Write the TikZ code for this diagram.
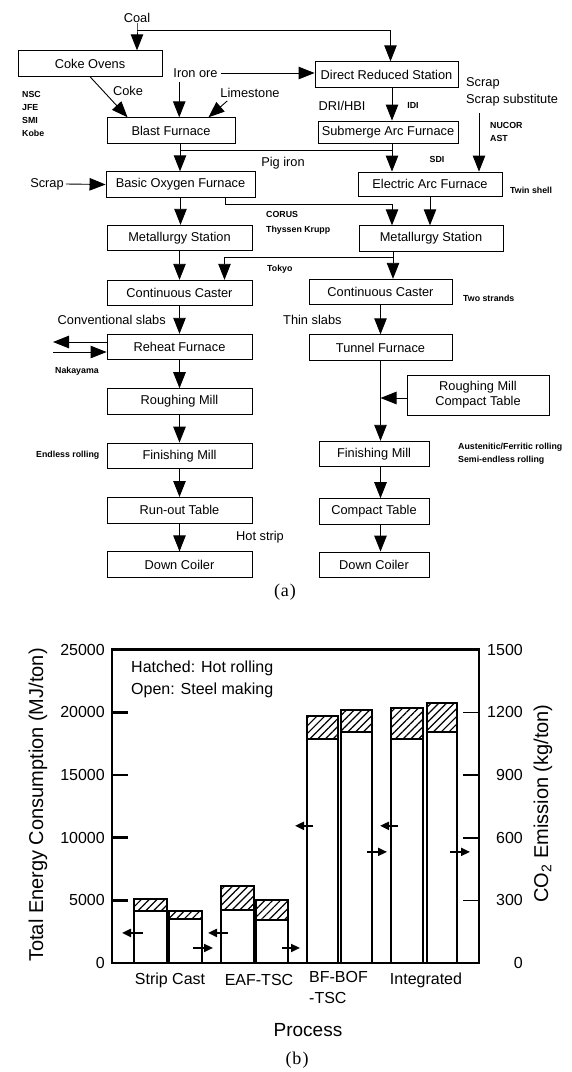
\documentclass[tikz,border=0pt]{standalone}
\usepackage{fontspec}
\setmainfont{Liberation Sans}
\newfontfamily\capfont{Liberation Serif}
\usepackage{tikz}
\usetikzlibrary{arrows.meta, positioning, patterns.meta}

\begin{document}
\begin{tikzpicture}[
        x=1pt, y=-1pt,
        stage/.style={
            draw,
            rectangle,
            line width=0.9pt,
            minimum width=145pt,
            minimum height=25.5pt,
            inner sep=0pt,
            font=\fontsize{12.8}{15}\selectfont
        },
        tag/.style={inner sep=0pt, font=\fontsize{12.8}{17}\selectfont},
        note/.style={inner sep=0pt, align=left, font=\fontsize{8.8}{13}\selectfont\bfseries},
        flow/.style={-{Triangle[length=16pt, width=12.5pt]}, line width=0.9pt},
        feed/.style={line width=0.9pt},
        axisline/.style={line width=2.8pt},
        barline/.style={line width=2pt},
        marker/.style={-{Triangle[length=9pt, width=8pt]}, line width=2pt},
        chart/.style={inner sep=0pt, font=\fontsize{16}{21.5}\selectfont},
        title/.style={inner sep=0pt, font=\fontsize{20}{24}\selectfont},
        caption/.style={inner sep=0pt, font=\capfont\fontsize{18}{20}\selectfont}
    ]
    \useasboundingbox (0,0) rectangle (571,1072);

    % (a) process routes, left column
    \node[tag] (coal) at (137,18) {Coal};
    \node[stage, minimum width=144pt] (ovens) at (90,63.5) {Coke Ovens};
    \node[stage, minimum width=128pt] (bf) at (171,130.5) {Blast Furnace};
    \node[stage, minimum width=149pt] (bof) at (180.5,184.5) {Basic Oxygen Furnace};
    \node[stage] (msL) at (179.5,238) {Metallurgy Station};
    \node[stage] (ccL) at (179.5,293) {Continuous Caster};
    \node[stage] (rf) at (179.5,347) {Reheat Furnace};
    \node[stage, below=28pt of rf] (rmL) {Roughing Mill};
    \node[stage, below=28pt of rmL] (fmL) {Finishing Mill};
    \node[stage, below=28pt of fmL] (rtL) {Run-out Table};
    \node[stage, below=28pt of rtL] (dcL) {Down Coiler};

    % right column
    \node[stage, minimum width=143pt] (drs) at (386.5,74.5) {Direct Reduced Station};
    \node[stage, minimum width=140pt, minimum height=22pt] (saf) at (388,132) {Submerge Arc Furnace};
    \node[stage, minimum width=144pt, minimum height=24pt] (eaf) at (430,184) {Electric Arc Furnace};
    \node[stage, minimum width=144pt] (msR) at (431,238.5) {Metallurgy Station};
    \node[stage, minimum width=143pt] (ccR) at (380.5,292) {Continuous Caster};
    \node[stage, minimum width=143pt] (tf) at (380.5,347.5) {Tunnel Furnace};
    \node[stage, minimum width=142pt, minimum height=40pt, align=center] (rmct) at (478,395) {Roughing Mill\\Compact Table};
    \node[stage, minimum width=110pt] (fmR) at (374,454) {Finishing Mill};
    \node[stage, minimum width=110pt, below=31pt of fmR] (ctR) {Compact Table};
    \node[stage, minimum width=110pt, below=27pt of ctR] (dcR) {Down Coiler};

    % labels
    \node[tag] (coke) at (128,91) {Coke};
    \node[tag] (ore) at (195.5,73) {Iron ore};
    \node[tag] (lime) at (250,93) {Limestone};
    \node[note, anchor=west] (jp) at (22,113.5) {NSC\\JFE\\SMI\\Kobe};
    \node[tag] (scrapL) at (47,184) {Scrap};
    \node[tag] (pig) at (283,163) {Pig iron};
    \node[tag, align=left, anchor=west] (scrapR) at (466,91.5) {Scrap\\Scrap substitute};
    \node[tag] (dri) at (342,106) {DRI/HBI};
    \node[note] (idi) at (413,105) {IDI};
    \node[note] (sdi) at (437,159) {SDI};
    \node[note, anchor=west] (us) at (490,132) {NUCOR\\AST};
    \node[note, anchor=west] (twin) at (510,190) {Twin shell};
    \node[note, anchor=west] (eu) at (266,222.5) {CORUS\\[2pt]Thyssen Krupp};
    \node[note, anchor=west] (tokyo) at (267,269) {Tokyo};
    \node[note, anchor=west] (two) at (463,298) {Two strands};
    \node[tag, anchor=east] (conv) at (166,320) {Conventional slabs};
    \node[tag, anchor=west] (thin) at (283,320) {Thin slabs};
    \node[note, anchor=west] (naka) at (55,371) {Nakayama};
    \node[note, anchor=west] (endless) at (36,455) {Endless rolling};
    \node[note, anchor=west] (ausf) at (458,454) {Austenitic/Ferritic rolling\\Semi-endless rolling};
    \node[tag, anchor=west] (hot) at (236,537) {Hot strip};
    \node[caption] (capa) at (285,592) {(\kern1pt a\kern1pt)};

    % connectors
    \coordinate (cj) at ([yshift=-7.5pt]coal.south);
    \draw[flow] (coal.south) -- (cj) -- (cj |- ovens.north);
    \draw[flow] (cj) -| ([xshift=4pt]drs.north);
    \draw[flow] (ovens.south) -- ([xshift=21pt]bf.north west);
    \coordinate (oreX) at ([xshift=6pt, yshift=-4pt]ore.south west);
    \draw[flow] (oreX) -- (oreX |- bf.north);
    \draw[flow] ([xshift=3pt]ore.east) -- (ore.east -| drs.west);
    \draw[flow] ([xshift=7pt, yshift=-3pt]lime.south west) -- ([xshift=-27pt]bf.north east);
    \coordinate (bfout) at ([xshift=9pt]bf.south);
    \draw[flow] (bfout) -- (bfout |- bof.north);
    \coordinate (pj) at ([yshift=-7pt]bfout);
    \coordinate (sj) at ([xshift=4pt]saf.south);
    \draw[flow] (drs.south -| sj) -- (saf.north -| sj);
    \draw[flow] (sj) -- (sj |- eaf.north);
    \draw[feed] (pj) -- (pj -| sj);
    \coordinate (scrX) at ([xshift=13pt, yshift=-7pt]scrapR.south west);
    \draw[flow] (scrX) -- (scrX |- eaf.north);
    \draw[flow] ([xshift=2pt]scrapL.east) -- (bof.west);
    \draw[flow] (bof.south) -- (bof.south |- msL.north);
    \draw[flow] ([xshift=45pt]bof.south) -- ++(0,7) -| ([xshift=-39pt]msR.north);
    \draw[flow] (eaf.south) -- (eaf.south |- msR.north);
    \draw[flow] (msL) -- (ccL);
    \coordinate (tj) at ([xshift=-38pt]msR.south);
    \draw[flow] (tj) -- (tj |- ccR.north);
    \draw[flow] (tj) -- ++(0,6) -| ([xshift=45pt]ccL.north);
    \draw[flow] (ccL) -- (rf);
    \draw[flow] (rf) -- (rmL);
    \draw[flow] (rmL) -- (fmL);
    \draw[flow] (fmL) -- (rtL);
    \draw[flow] (rtL) -- (dcL);
    \coordinate (nkout) at (53,342);
    \coordinate (nkin) at (53,352);
    \draw[flow] (rf.west |- nkout) -- (nkout);
    \draw[flow] (nkin) -- (rf.west |- nkin);
    \draw[flow] (ccR) -- (tf);
    \draw[flow] (tf.south) -- (tf.south |- fmR.north);
    \coordinate (rmin) at ([yshift=-3pt]rmct.west);
    \draw[flow] (rmin) -- (rmin -| tf.south);
    \draw[flow] (fmR.south -| tf.south) -- (ctR.north -| tf.south);
    \draw[flow] (ctR.south -| tf.south) -- (dcR.north -| tf.south);

    % (b) energy consumption and CO2 emission
    \begin{scope}[shift={(0,963)}, y=0.01252pt]
        \foreach \xa/\xb/\op/\tot in {134/167/4150/5110, 169/202/3500/4150,
                221/254/4230/6150, 256/288/3430/5030,
                307/338/17890/19730, 341/372/18450/20200,
                391/423/17890/20370, 427/457/18450/20770} {
            \fill[pattern={Lines[angle=45, distance=5.5pt, line width=1.2pt]}] (\xa,\op) rectangle (\xb,\tot);
            \draw[barline] (\xa,0) rectangle (\xb,\tot);
            \draw[barline] (\xa,\op) -- (\xb,\op);
        }
        \draw[axisline] (112,0) rectangle (479,25000);
        \foreach \v in {5000,10000,15000,20000} {
            \draw[axisline] (112,\v) -- (128,\v);
            \draw[line width=1.6pt] (463,\v) -- (479,\v);
        }
        \foreach \v in {0,5000,10000,15000,20000,25000}
            \node[chart, anchor=east] (e\v) at (105,\v) {\v};
        \foreach \v/\c in {0/0,5000/300,10000/600,15000/900,20000/1200,25000/1500}
            \node[chart, anchor=east] (c\c) at (523,\v) {\c};
        \foreach \xs/\xt/\v in {143/122/2400, 228/208/2400, 313/295/10950, 398/380/10950,
                193/213/1200, 282/300/1200, 367/387/8870, 450/470/8870}
            \draw[marker] (\xs,\v) -- (\xt,\v);
    \end{scope}

    \node[chart, align=left, anchor=west] (legend) at (131,679.5) {Hatched: Hot rolling\\Open: Steel making};
    \node[chart] (sc) at (170,980) {Strip Cast};
    \node[chart] (eaftsc) at (259,980) {EAF-TSC};
    \node[chart, align=left, anchor=north west] (bfbof) at (309,971) {BF-BOF\\-TSC};
    \node[chart] (integ) at (426,980) {Integrated};
    \node[title, font=\fontsize{19}{23}\selectfont] (proc) at (308,1030) {Process};
    \node[title, rotate=90] (ylab) at (38,805) {Total Energy Consumption (MJ/ton)};
    \node[title, rotate=90] (y2lab) at (543,803.5) {CO\textsubscript{2} Emission (kg/ton)};
    \node[caption] (capb) at (297,1060) {(\kern1pt b\kern1pt)};
\end{tikzpicture}
\end{document}
